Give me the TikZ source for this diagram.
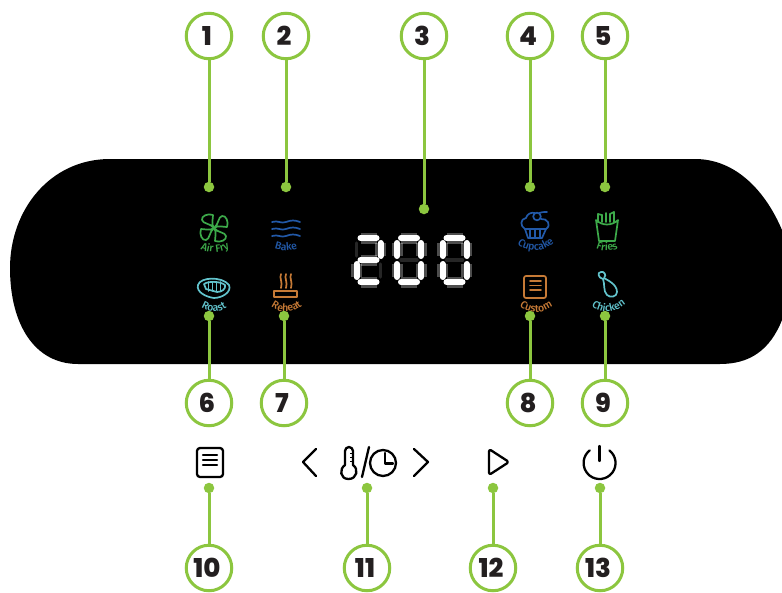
\documentclass[tikz,border=0pt]{standalone}
\usepackage{fontspec}
\usepackage{xcolor}
\usetikzlibrary{decorations.text}
\setmainfont{Fira Sans Medium}
\newfontfamily\numfont{Poppins ExtraBold}
\newcommand{\labelfont}{\fontsize{10.5}{11}\selectfont}
\definecolor{leadgreen}{HTML}{8CC63F}
\definecolor{numink}{HTML}{231F20}
\definecolor{fangreen}{HTML}{3DAA4A}
\definecolor{bakeblue}{HTML}{2259A8}
\definecolor{roastteal}{HTML}{62C3CC}
\definecolor{reheatorange}{HTML}{C67A36}

\begin{document}
\begin{tikzpicture}[
  x=1pt,y=-1pt,
  numcirc/.style={circle,draw=leadgreen,line width=3pt,fill=white,minimum size=45.5pt,inner sep=0pt,text=numink,font=\numfont\fontsize{26}{26}\selectfont,execute at begin node={\kern-4pt}},
  leaddot/.style={circle,fill=leadgreen,minimum size=10.5pt,inner sep=0pt},
  leader/.style={draw=leadgreen,line width=3pt},
  icon/.style={line width=1.7pt,line cap=round,line join=round},
  keyicon/.style={line width=2.3pt,line cap=round,line join=round,draw=black},
  ledon/.style={white,line width=6pt,line cap=round,preaction={draw,white,opacity=.3,line width=11pt}},
  ledoff/.style={black!85!white,line width=3.5pt,line cap=round},
  iconlabel/.style n args={2}{decorate,decoration={text along path,text align=center,text color=#1,text={|\labelfont|#2}}}
]
\useasboundingbox (0,0) rectangle (782,592);
\fill[white] (0,0) rectangle (782,592);
% panel
\fill[black] (110,159) -- (695,159) .. controls (735,159) and (765,190) .. (782,230) -- (782,320)
  .. controls (770,350) and (750,364) .. (720,364) -- (78,364)
  .. controls (35,364) and (10,325) .. (10,268) .. controls (10,210) and (50,159) .. (110,159) -- cycle;

% air fry
\foreach \a in {0,90,180,270}
  \draw[icon,fangreen,shift={(214,228)},rotate=\a] (0,0) .. controls (-3,-4) and (-1,-9) .. (-1,-13)
    .. controls (-6,-15) and (-13,-12) .. (-12,-8) .. controls (-11,-4) and (-4,-5) .. (0,0);
\path[iconlabel={fangreen}{Air Fry}] (197,247) .. controls (208,254) and (222,254) .. (233,246);

% bake
\foreach \y in {222,229,236}
  \draw[icon,bakeblue] (272,\y) .. controls (278,\y-2) and (281,\y+2) .. (286,\y) .. controls (291,\y-2) and (295,\y-2) .. (300,\y);
\path[iconlabel={bakeblue}{Bake}] (271,247) .. controls (280,252) and (292,252) .. (301,247);

% roast
\draw[icon,roastteal] (198,285) .. controls (200,277) and (222,276) .. (229,285) .. controls (232,292) and (222,298) .. (214,298)
  .. controls (206,297) and (196,292) .. (198,285) -- cycle;
\draw[icon,roastteal] (204,284) .. controls (208,281) and (220,281) .. (225,285) .. controls (226,289) and (222,292) .. (217,292) -- (206,289) -- cycle;
\foreach \x in {208.5,212.5,216.5,220.5}
  \draw[icon,roastteal] (\x,282) -- (\x,291);
\path[iconlabel={roastteal}{Roast}] (197,304) .. controls (206,314) and (222,314) .. (231,304);

% reheat
\foreach \x in {281,286,291}
  \draw[icon,reheatorange] (\x,274) .. controls (\x-2,278) and (\x+2,282) .. (\x,288);
\draw[icon,reheatorange] (274,291) rectangle (297,297);
\path[iconlabel={reheatorange}{Reheat}] (267,303) .. controls (278,315) and (295,315) .. (306,302);

% display
\foreach \L in {356.5,397,442.5}{
  \draw[ledoff] (\L+4,260) -- (\L+20,260);
  \draw[ledoff] (\L,243) -- (\L,256);
  \draw[ledoff] (\L+24,264) -- (\L+24,277);
}
\foreach \L in {356.5,397,442.5}{
  \draw[ledon] (\L+4,238) -- (\L+20,238);
  \draw[ledon] (\L+24,243) -- (\L+24,256);
  \draw[ledon] (\L,264) -- (\L,277);
  \draw[ledon] (\L+4,282) -- (\L+20,282);
}
\draw[ledon] (360.5,260) -- (376.5,260);
\foreach \L in {397,442.5}{
  \draw[ledon] (\L,243) -- (\L,256);
  \draw[ledon] (\L+24,264) -- (\L+24,277);
}

% cupcake
\draw[icon,bakeblue] (525,229) .. controls (520,226) and (520,219) .. (526,218) .. controls (527,214) and (531,212) .. (535,213);
\draw[icon,bakeblue] (541,219) .. controls (547,218) and (552,225) .. (546,229) -- (525,229);
\draw[icon,bakeblue] (537,216.5) circle[radius=3.8];
\draw[icon,bakeblue] (539,213) .. controls (541,212) and (544,212) .. (547,212);
\draw[icon,bakeblue] (525,229) -- (528,238) -- (542,238) -- (546,229);
\foreach \x in {530,535,540}
  \draw[icon,bakeblue] (\x,230) -- (\x,237);
\path[iconlabel={bakeblue}{Cupcake}] (513,240) .. controls (525,254) and (546,254) .. (558,238);

% fries
\draw[icon,fangreen] (596,220) -- (599,241) -- (615,241) -- (618,220) .. controls (612,226) and (602,226) .. (596,220) -- cycle;
\foreach \x/\t in {598/214,602/215,606/213,610/214,614/212}
  \draw[icon,fangreen] (\x,\t) -- (\x,222);
\draw[icon,fangreen] (598,214) -- (602,215);
\draw[icon,fangreen] (610,214) -- (614,212);
\path[iconlabel={fangreen}{Fries}] (593,247) .. controls (602,252) and (612,252) .. (621,247);

% custom
\draw[icon,reheatorange,rounded corners=2pt] (524,276) rectangle (546,298);
\draw[icon,reheatorange] (530,281) -- (541,281);
\draw[icon,reheatorange] (530,285.5) -- (541,285.5);
\draw[icon,reheatorange] (530,290) -- (541,290);
\path[iconlabel={reheatorange}{Custom}] (516,303) .. controls (527,315) and (545,315) .. (556,303);

% chicken
\draw[icon,roastteal] (603,279) .. controls (598,278) and (597,272) .. (601,272) .. controls (604,271) and (607,275) .. (604,278)
  .. controls (607,280) and (617,284) .. (617,292) .. controls (617,297) and (610,298) .. (607,295) .. controls (603,291) and (605,284) .. (603,279) -- cycle;
\path[iconlabel={roastteal}{Chicken}] (587,302) .. controls (599,315) and (617,315) .. (630,300);

% keys
\draw[keyicon,rounded corners=3pt] (197,448) rectangle (223,477);
\draw[keyicon] (203,455) -- (217,455);
\draw[keyicon] (203,460) -- (217,460);
\draw[keyicon] (203,465) -- (217,465);
\draw[keyicon] (316,449) -- (303,462) -- (316,476);
\draw[keyicon] (414,449) -- (428,462) -- (414,476);
\draw[keyicon] (345,465) -- (345,451) arc[start angle=180,end angle=360,radius=4] -- (353,465)
  .. controls (359,469) and (357,479) .. (348.5,479) .. controls (340,479) and (339,469) .. (345,465);
\draw[line width=1pt,black] (350,453) -- (353,453);
\draw[line width=1pt,black] (350,457) -- (353,457);
\draw[line width=1pt,black] (350,461) -- (353,461);
\draw[keyicon] (369,447) -- (362,477);
\draw[keyicon] (383,463) circle[radius=13];
\draw[keyicon] (385,453) -- (385,463.5) -- (393,463.5);
\draw[keyicon,rounded corners=2.5pt] (489,449) -- (509,462) -- (489,475) -- cycle;
\draw[keyicon] (609.4,450.4) arc[start angle=-52,end angle=232,radius=16];
\draw[keyicon] (599.5,446) -- (599.5,461);

% leaders
\node[numcirc] (n1) at (209,36) {1};
\node[numcirc] (n2) at (286,36) {2};
\node[numcirc] (n3) at (424,36) {3};
\node[numcirc] (n4) at (530,36) {4};
\node[numcirc] (n5) at (605,36) {5};
\node[numcirc] (n6) at (209,403) {6};
\node[numcirc] (n7) at (284,403) {7};
\node[numcirc] (n8) at (530,403) {8};
\node[numcirc] (n9) at (605,403) {9};
\node[numcirc] (n10) at (209,568) {10};
\node[numcirc] (n11) at (367,568) {11};
\node[numcirc] (n12) at (493,568) {12};
\node[numcirc] (n13) at (600,568) {13};
\node[leaddot] (d1) at (209,187) {};
\node[leaddot] (d2) at (286,187) {};
\node[leaddot] (d3) at (424,209) {};
\node[leaddot] (d4) at (530,187) {};
\node[leaddot] (d5) at (605,187) {};
\node[leaddot] (d6) at (209,316) {};
\node[leaddot] (d7) at (284,316) {};
\node[leaddot] (d8) at (530,316) {};
\node[leaddot] (d9) at (605,316) {};
\node[leaddot] (d10) at (209,488) {};
\node[leaddot] (d11) at (367,488) {};
\node[leaddot] (d12) at (493,488) {};
\node[leaddot] (d13) at (600,488) {};
\draw[leader] (n1)--(d1);
\draw[leader] (n2)--(d2);
\draw[leader] (n3)--(d3);
\draw[leader] (n4)--(d4);
\draw[leader] (n5)--(d5);
\draw[leader] (n6)--(d6);
\draw[leader] (n7)--(d7);
\draw[leader] (n8)--(d8);
\draw[leader] (n9)--(d9);
\draw[leader] (n10)--(d10);
\draw[leader] (n11)--(d11);
\draw[leader] (n12)--(d12);
\draw[leader] (n13)--(d13);
\end{tikzpicture}
\end{document}
